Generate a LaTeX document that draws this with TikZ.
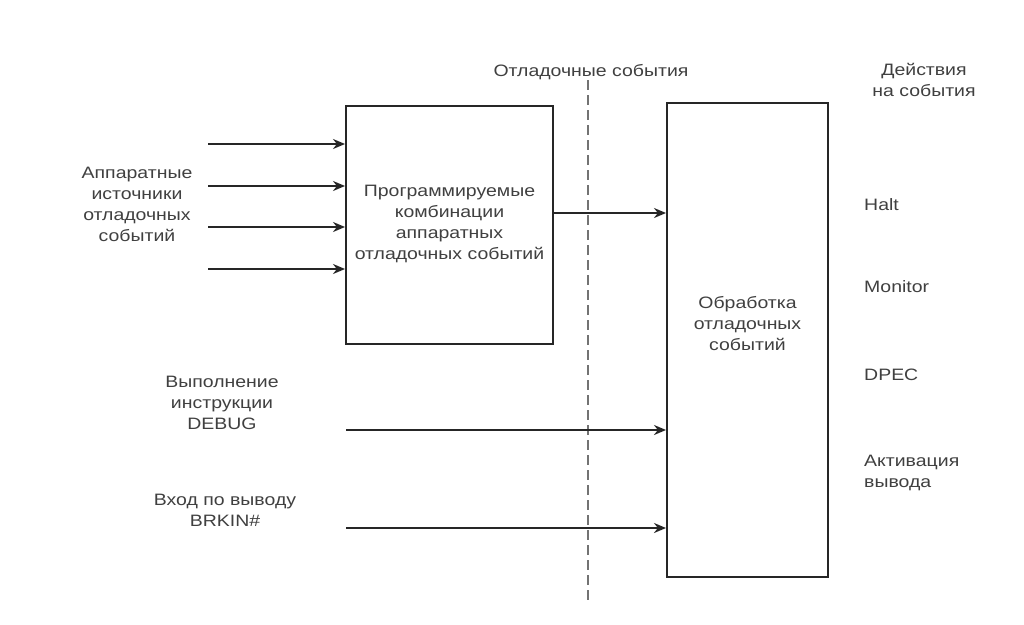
\documentclass[tikz,border=0pt]{standalone}
\usepackage{fontspec}
\setmainfont[FakeStretch=1.18]{Liberation Sans}
\usetikzlibrary{arrows.meta}
\begin{document}
\begin{tikzpicture}[x=1pt,y=-1pt,
  txt/.style={text=black!75, font=\fontsize{16.5}{21}\selectfont, align=center, inner sep=0pt},
  ltxt/.style={txt, align=left, anchor=west},
  blk/.style={draw=black!85, line width=2.2pt},
  sig/.style={draw=black!85, line width=2pt, -{Stealth[length=12pt,width=10pt]}},
  sep/.style={draw=black!55, line width=1.1pt, dash pattern=on 10pt off 5pt}]
\useasboundingbox (0,0) rectangle (1024,624);
\fill[white] (0,0) rectangle (1024,624);

% processing blocks
\draw[blk] (346,106) rectangle (553,344);
\node[txt] (comb) at (449.5,224) {Программируемые\\комбинации\\аппаратных\\отладочных событий};
\draw[blk] (667,103) rectangle (828,577);
\node[txt] (proc) at (747.5,324) {Обработка\\отладочных\\событий};

% boundary between event sources and event handling
\coordinate (sepT) at (588,80);
\coordinate (sepB) at (588,604);
\draw[sep] (sepT) -- (sepB);
\node[txt] (sepL) at (591,72) {Отладочные события};

% hardware event sources
\node[txt] (hw) at (137,204) {Аппаратные\\источники\\отладочных\\событий};
\foreach \y/\n in {144/a,186/b,227/c,269/d}{
  \coordinate (s\n) at (208,\y);
  \coordinate (t\n) at (345,\y);
  \draw[sig] (s\n) -- (t\n);
}

% combined events into the handler
\coordinate (cOut) at (553,213);
\coordinate (pIn) at (666,213);
\draw[sig] (cOut) -- (pIn);

% DEBUG instruction
\node[txt] (dbg) at (222,403) {Выполнение\\инструкции\\DEBUG};
\coordinate (dbgS) at (346,430);
\coordinate (dbgT) at (666,430);
\draw[sig] (dbgS) -- (dbgT);

% BRKIN# pin
\node[txt] (brk) at (225,510) {Вход по выводу\\BRKIN\#};
\coordinate (brkS) at (346,528);
\coordinate (brkT) at (666,528);
\draw[sig] (brkS) -- (brkT);

% actions
\node[txt] (act) at (924,80) {Действия\\на события};
\node[ltxt] (halt) at (864,205) {Halt};
\node[ltxt] (mon) at (864,287) {Monitor};
\node[ltxt] (dpec) at (864,375) {DPEC};
\node[ltxt] (pin) at (864,473) {Активация\\вывода};
\end{tikzpicture}
\end{document}
